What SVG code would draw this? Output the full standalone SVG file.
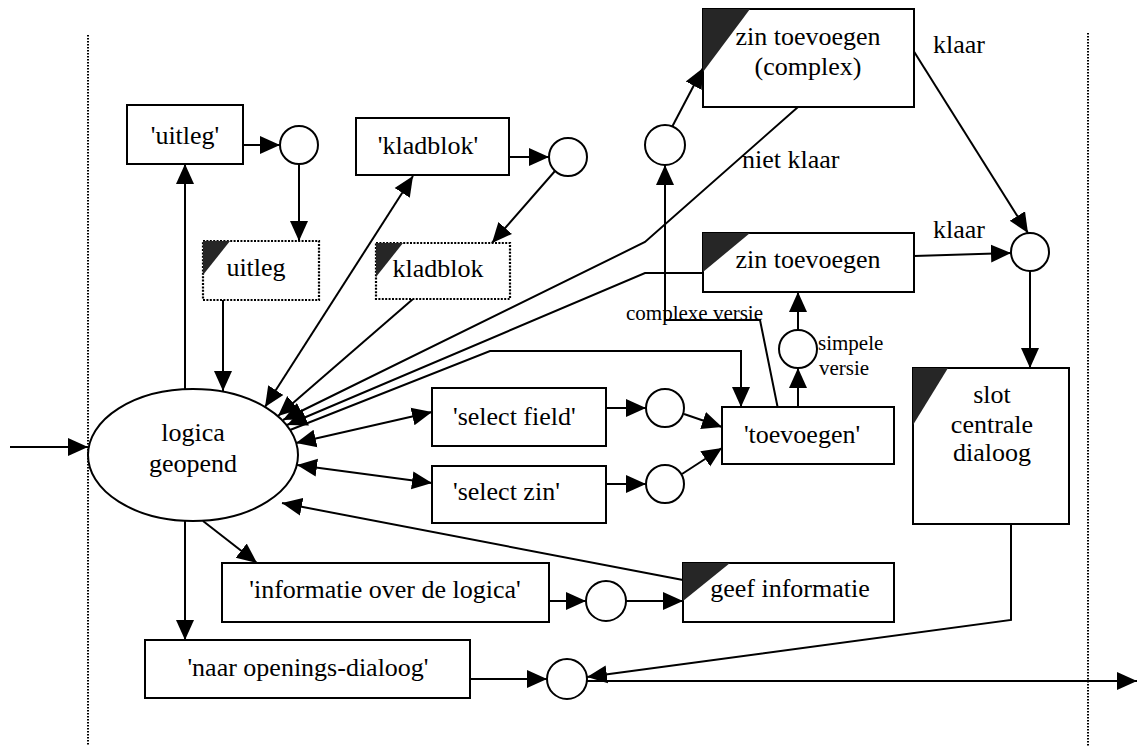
<svg xmlns="http://www.w3.org/2000/svg" width="1137" height="746" viewBox="0 0 1137 746">
<defs>
<marker id="ah" viewBox="0 0 20 20" refX="20" refY="10" markerWidth="20" markerHeight="20" markerUnits="userSpaceOnUse" orient="auto-start-reverse"><path d="M0,1 L20,10 L0,19 z" fill="#000"/></marker>
</defs>
<style>
.box{fill:#fff;stroke:#000;stroke-width:2}
.dbox{fill:#fff;stroke:#000;stroke-width:2.2;stroke-dasharray:2 1.4}
.circ{fill:#fff;stroke:#000;stroke-width:2}
.tri{fill:#262626}
.ln{fill:none;stroke:#000;stroke-width:2}
.arr{marker-end:url(#ah)}
.bi{marker-start:url(#ah);marker-end:url(#ah)}
.sep{fill:none;stroke:#000;stroke-width:2;stroke-dasharray:1.5 1.5}
.sm{font-size:21px}
.c{text-anchor:middle}
</style>
<rect width="1137" height="746" fill="#fff"/>
<g id="swimlanes">
<line class="sep" x1="88" y1="35" x2="88" y2="746"/>
<line class="sep" x1="1088" y1="33" x2="1088" y2="746"/>
</g>
<g id="connectors">
<path class="ln arr" d="M10,447 L88,447"/>
<path class="ln arr" d="M185,389 L185,164"/>
<path class="ln arr" d="M243,145 L280,145"/>
<path class="ln arr" d="M299,164 L299,241"/>
<path class="ln arr" d="M223,300 L223,391"/>
<path class="ln bi" d="M265,407 L413,176"/>
<path class="ln arr" d="M509,157 L549,157"/>
<path class="ln arr" d="M555,171 L492,243"/>
<path class="ln arr" d="M413,299 L278,416"/>
<path class="ln arr" d="M798,107 L645,242 L283,420"/>
<path class="ln arr" d="M703,273 L645,273 L287,425"/>
<path class="ln arr" d="M290,430 L490,351 L741,351 L741,407"/>
<path class="ln bi" d="M296,443 L432,412"/>
<path class="ln bi" d="M297,465 L432,483"/>
<path class="ln arr" d="M606,408 L646,408"/>
<path class="ln arr" d="M684,414 L722,427"/>
<path class="ln arr" d="M606,484 L646,484"/>
<path class="ln arr" d="M682,474 L722,448"/>
<path class="ln arr" d="M798,407 L798,368"/>
<path class="ln arr" d="M798,330 L798,292"/>
<path class="ln arr" d="M778,409 L760,320 L665,320 L665,165"/>
<path class="ln arr" d="M672,127 L703,68"/>
<path class="ln arr" d="M913,50 L1028,233"/>
<path class="ln arr" d="M914,256 L1011,253"/>
<path class="ln arr" d="M1030,271 L1030,368"/>
<path class="ln arr" d="M1011,524 L1011,620 L587,677"/>
<path class="ln arr" d="M587,681 L1137,681"/>
<path class="ln arr" d="M470,679 L547,679"/>
<path class="ln arr" d="M549,601 L586,601"/>
<path class="ln arr" d="M626,601 L683,601"/>
<path class="ln arr" d="M683,580 L282,503"/>
<path class="ln arr" d="M203,521 L257,563"/>
<path class="ln arr" d="M185,521 L185,640"/>
</g>
<g font-family="Liberation Serif, Times New Roman, Tinos, DejaVu Serif, serif" font-size="26" fill="#000">
<g id="labels">
<text x="933" y="53">klaar</text>
<text x="933" y="238">klaar</text>
<text x="742" y="168">niet klaar</text>
<text class="sm" x="626" y="320">complexe versie</text>
<text class="sm" x="818" y="350">simpele</text>
<text class="sm" x="819" y="375">versie</text>
</g>
<g id="logica-geopend">
<ellipse class="circ" cx="193" cy="455" rx="105" ry="66"/>
<text class="c" x="193" y="441">logica</text>
<text class="c" x="193" y="472">geopend</text>
</g>
<g id="uitleg-vraag">
<rect class="box" x="127" y="105" width="116" height="59"/>
<text class="c" x="185" y="144">'uitleg'</text>
</g>
<g id="c-uitleg"><circle class="circ" cx="299" cy="145" r="19"/></g>
<g id="uitleg">
<rect class="dbox" x="203" y="241" width="116" height="59"/>
<path class="tri" d="M203,241 L230,241 L203,275 z"/>
<text class="c" x="256" y="276">uitleg</text>
</g>
<g id="kladblok-vraag">
<rect class="box" x="356" y="118" width="153" height="57"/>
<text class="c" x="428" y="154">'kladblok'</text>
</g>
<g id="c-kladblok"><circle class="circ" cx="568" cy="157" r="19"/></g>
<g id="kladblok">
<rect class="dbox" x="376" y="243" width="134" height="56"/>
<path class="tri" d="M376,243 L403,243 L376,277 z"/>
<text class="c" x="438" y="277">kladblok</text>
</g>
<g id="select-field">
<rect class="box" x="432" y="388" width="174" height="58"/>
<text x="453" y="425">'select field'</text>
</g>
<g id="c-field"><circle class="circ" cx="665" cy="408" r="19"/></g>
<g id="select-zin">
<rect class="box" x="432" y="466" width="174" height="57"/>
<text x="453" y="500">'select zin'</text>
</g>
<g id="c-zin"><circle class="circ" cx="665" cy="484" r="19"/></g>
<g id="toevoegen">
<rect class="box" x="722" y="407" width="172" height="57"/>
<text class="c" x="802" y="443">'toevoegen'</text>
</g>
<g id="c-simpel"><circle class="circ" cx="798" cy="349" r="19"/></g>
<g id="c-complex"><circle class="circ" cx="665" cy="145" r="20"/></g>
<g id="zin-toevoegen-complex">
<rect class="box" x="703" y="9" width="211" height="98"/>
<path class="tri" d="M703,9 L750,9 L703,72 z"/>
<text class="c" x="808" y="45">zin toevoegen</text>
<text class="c" x="808" y="75">(complex)</text>
</g>
<g id="zin-toevoegen">
<rect class="box" x="703" y="233" width="211" height="59"/>
<path class="tri" d="M703,233 L750,233 L703,272 z"/>
<text class="c" x="808" y="268">zin toevoegen</text>
</g>
<g id="c-klaar"><circle class="circ" cx="1030" cy="252" r="19"/></g>
<g id="slot-centrale-dialoog">
<rect class="box" x="913" y="368" width="156" height="156"/>
<path class="tri" d="M913,368 L948,368 L913,425 z"/>
<text class="c" x="992" y="403">slot</text>
<text class="c" x="992" y="433">centrale</text>
<text class="c" x="992" y="461">dialoog</text>
</g>
<g id="informatie-vraag">
<rect class="box" x="222" y="563" width="327" height="59"/>
<text class="c" x="385" y="598">'informatie over de logica'</text>
</g>
<g id="c-info"><circle class="circ" cx="606" cy="601" r="20"/></g>
<g id="geef-informatie">
<rect class="box" x="683" y="563" width="211" height="59"/>
<path class="tri" d="M683,563 L730,563 L683,601 z"/>
<text class="c" x="790" y="597">geef informatie</text>
</g>
<g id="naar-openings-dialoog">
<rect class="box" x="145" y="640" width="325" height="58"/>
<text class="c" x="308" y="676">'naar openings-dialoog'</text>
</g>
<g id="c-exit"><circle class="circ" cx="567" cy="679" r="20"/></g>
</g>
</svg>
